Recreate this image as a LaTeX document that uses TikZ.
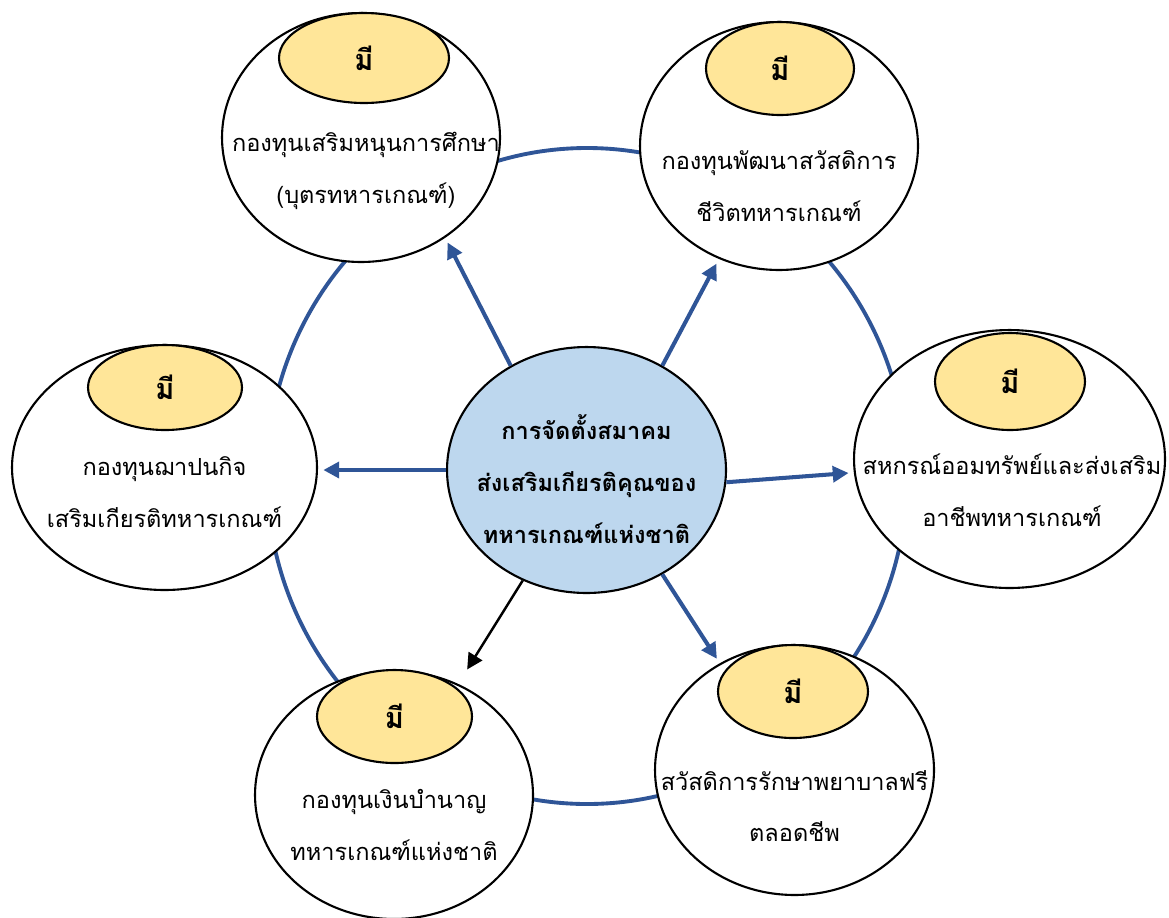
\documentclass[tikz,border=0pt]{standalone}
\usepackage{fontspec}
\newfontfamily\thaifont[Script=Thai]{Loma}
\usetikzlibrary{shapes.geometric,arrows.meta}
\definecolor{ringblue}{RGB}{47,85,151}
\definecolor{hubfill}{RGB}{189,215,238}
\definecolor{tagfill}{RGB}{255,230,153}

\begin{document}
\begin{tikzpicture}[x=0.02cm, y=-0.02cm,
        fund/.style={ellipse, draw, line width=1.2pt, fill=white, inner sep=0pt},
        tag/.style={ellipse, draw, line width=1.2pt, fill=tagfill, inner sep=0pt,
            font=\thaifont\bfseries\fontsize{16.5}{18}\selectfont},
        txt/.style={align=center, font=\thaifont\fontsize{13.4}{29.5}\selectfont},
        link/.style={ringblue, line width=2.3pt, -{Triangle[length=9pt, width=9pt]}, shorten >=3pt}]
        \useasboundingbox (0,0) rectangle (1169,917);

        % Ring
        \draw [ringblue, line width=2.2pt] (587,476) ellipse [x radius=320, y radius=328];

        % Hub
        \node [fund, fill=hubfill, minimum width=5.58cm, minimum height=4.92cm] (ctr) at (586.5,470) {};
        \node [txt, font=\thaifont\bfseries\fontsize{13.4}{29.5}\selectfont] (ctr-txt) at (586.5,479)
            {การจัดตั้งสมาคม\\ส่งเสริมเกียรติคุณของ\\ทหารเกณฑ์แห่งชาติ};

        % Fund 1
        \node [fund, minimum width=5.56cm, minimum height=4.98cm] (edu) at (361,137.5) {};
        \node [tag, minimum width=3.4cm, minimum height=1.8cm] (edu-tag) at (364,58) {มี};
        \node [txt] (edu-txt) at (366,171) {กองทุนเสริมหนุนการศึกษา\\(บุตรทหารเกณฑ์)};

        % Fund 2
        \node [fund, minimum width=5.56cm, minimum height=4.96cm] (welf) at (779,146) {};
        \node [tag, minimum width=2.96cm, minimum height=1.86cm] (welf-tag) at (780,68.5) {มี};
        \node [txt] (welf-txt) at (779,186) {กองทุนพัฒนาสวัสดิการ\\ชีวิตทหารเกณฑ์};

        % Fund 3
        \node [fund, minimum width=6.1cm, minimum height=4.9cm] (crem) at (164.5,467.5) {};
        \node [tag, minimum width=3.08cm, minimum height=1.7cm] (crem-tag) at (165,387.5) {มี};
        \node [txt] (crem-txt) at (164.5,492) {กองทุนฌาปนกิจ\\เสริมเกียรติทหารเกณฑ์};

        % Fund 4
        \node [fund, minimum width=6.22cm, minimum height=5.16cm] (coop) at (1009.5,459) {};
        \node [tag, minimum width=3cm, minimum height=1.94cm] (coop-tag) at (1010,381.5) {มี};
        \node [txt] (coop-txt) at (1012,490) {สหกรณ์ออมทรัพย์และส่งเสริม\\อาชีพทหารเกณฑ์};

        % Fund 5
        \node [fund, minimum width=5.56cm, minimum height=4.96cm] (pens) at (394,795) {};
        \node [tag, minimum width=3.1cm, minimum height=1.86cm] (pens-tag) at (394.5,716.5) {มี};
        \node [txt] (pens-txt) at (394,825) {กองทุนเงินบำนาญ\\ทหารเกณฑ์แห่งชาติ};

        % Fund 6
        \node [fund, minimum width=5.58cm, minimum height=5cm] (med) at (794.5,770) {};
        \node [tag, minimum width=3cm, minimum height=1.86cm] (med-tag) at (793,691.5) {มี};
        \node [txt] (med-txt) at (794.5,806) {สวัสดิการรักษาพยาบาลฟรี\\ตลอดชีพ};

        % Links
        \draw [link] (ctr.126) -- (edu.-50);
        \draw [link] (ctr.54.5) -- (welf.242.5);
        \draw [link] (ctr.west) -- (ctr.west -| crem.east);
        \draw [link] (ctr.-5) -- (coop.-175);
        \draw [link] (ctr.-54) -- (med.125);
        \draw [link, black, line width=1.4pt, shorten >=0.34cm] (ctr.-120.5) -- (pens.60.6);
    \end{tikzpicture}
\end{document}
